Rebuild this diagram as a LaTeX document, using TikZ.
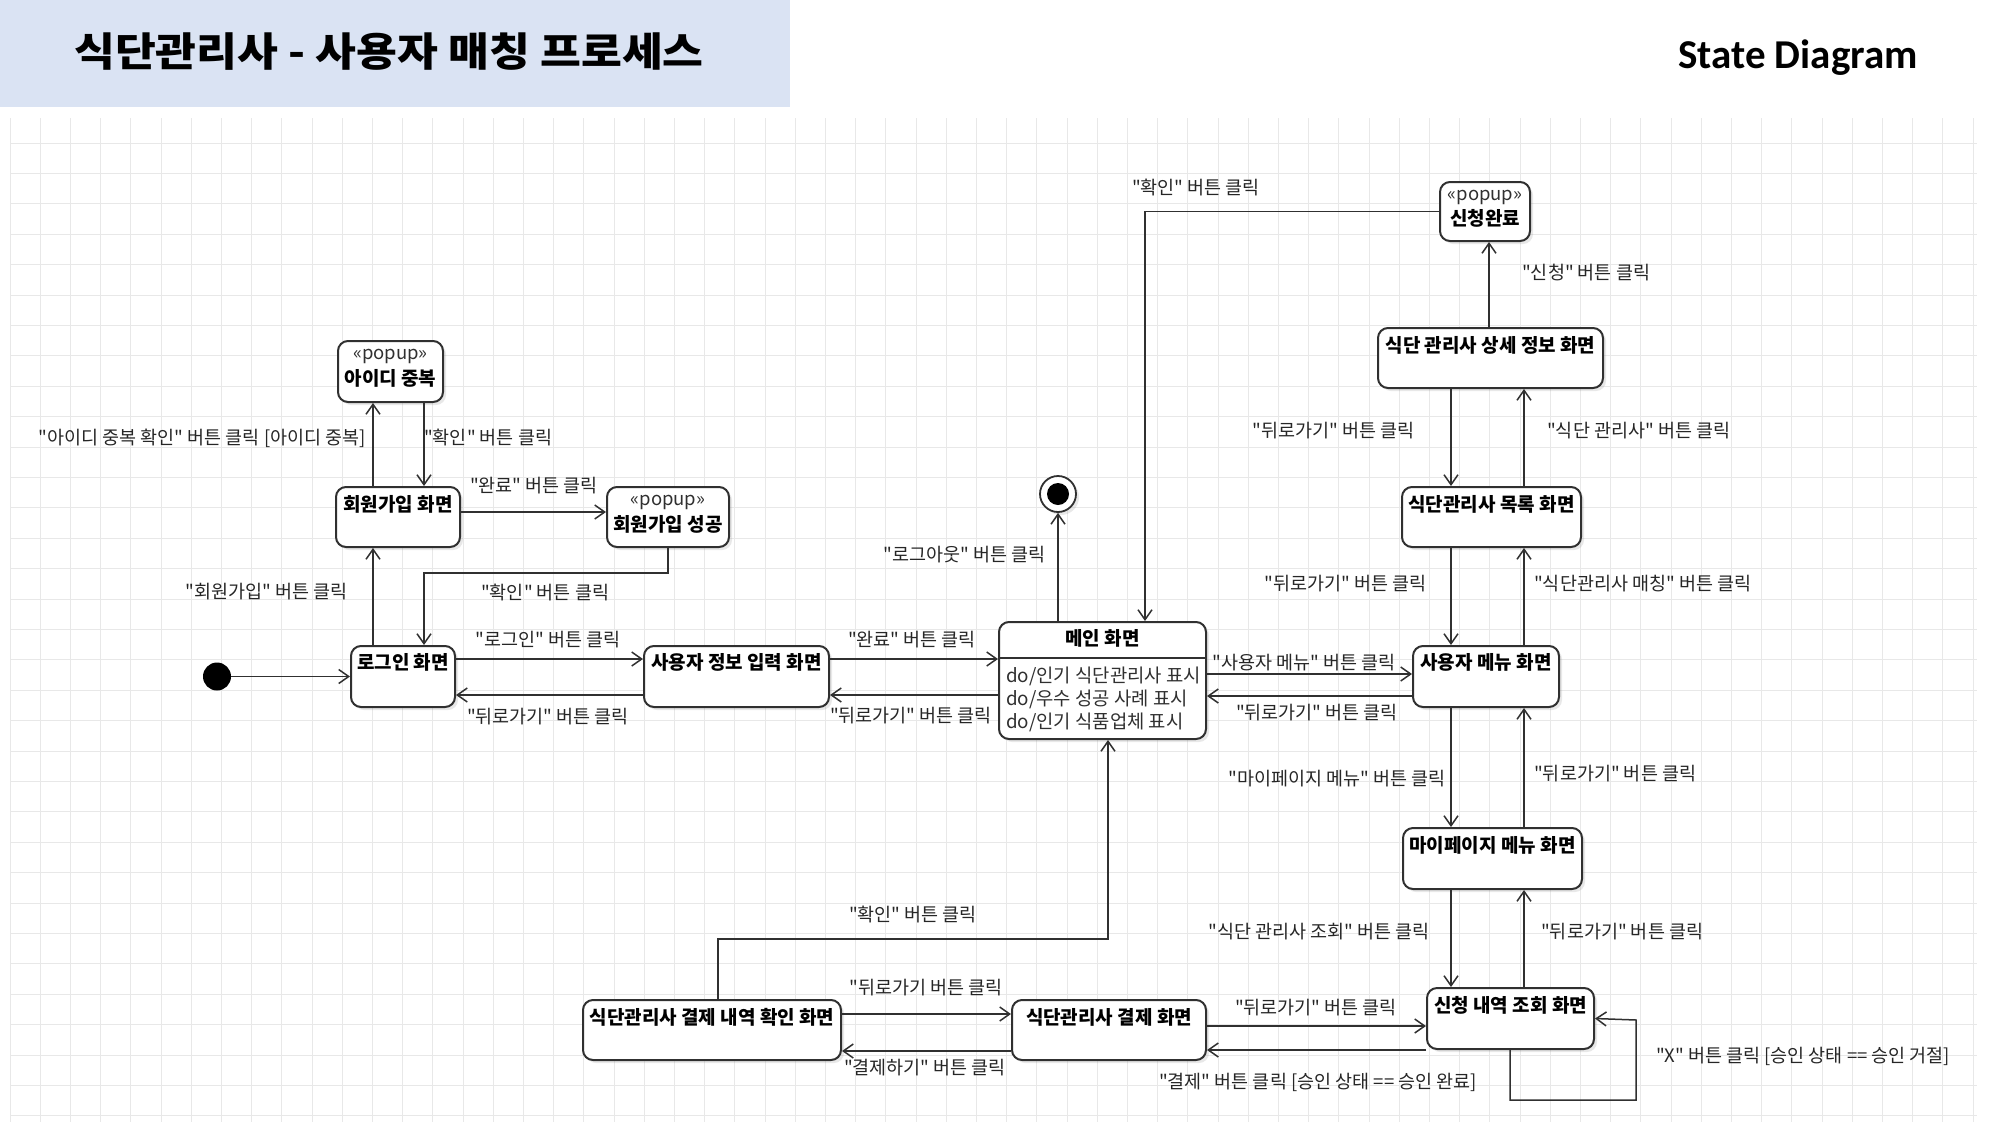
\documentclass[tikz,border=0pt]{standalone}
\usepackage{fontspec}
\newfontfamily\kr{Noto Sans CJK KR}
\newfontfamily\titlefont{Noto Sans CJK KR}[FakeStretch=1.11]
\newfontfamily\headfont{Carlito}
\usetikzlibrary{arrows.meta,shadows}
\definecolor{headblue}{HTML}{DAE3F3}
\definecolor{gridgray}{HTML}{E8E8E8}
\definecolor{ink}{HTML}{303030}
\definecolor{labelink}{HTML}{262626}

\begin{document}
\begin{tikzpicture}[x=1pt,y=-1pt,
  stbox/.style={draw=ink, line width=2pt, rounded corners=10pt, fill=white,
    drop shadow={shadow xshift=3pt, shadow yshift=-3pt, opacity=0.18}, inner sep=0pt},
  ttl/.style={font=\kr\fontsize{19}{22}\selectfont\bfseries, text=black, inner sep=0pt},
  stereo/.style={font=\kr\fontsize{18.5}{21}\selectfont, text=ink, inner sep=0pt},
  dotext/.style={font=\kr\fontsize{18.8}{22}\selectfont, text=ink, inner sep=0pt, anchor=west},
  lbl/.style={font=\kr\fontsize{18.5}{21}\selectfont, text=labelink, inner sep=0pt},
  tr/.style={draw=ink, line width=1.5pt,
    -{Straight Barb[length=10pt,width=14pt,line width=1.5pt]}},
  ]
\useasboundingbox (0,0) rectangle (2000,1125);
\fill[white] (0,0) rectangle (2000,1125);

% background grid of the drawing area
\foreach \i in {0,...,65}
  \draw[gridgray, line width=1pt] ({10+30.2*\i},118) -- ({10+30.2*\i},1122);
\foreach \j in {0,...,32}
  \draw[gridgray, line width=1pt] (10,{143+30.4*\j}) -- (1977,{143+30.4*\j});

% header
\fill[headblue] (0,0) rectangle (790,107);
\node[font=\titlefont\fontsize{40}{46}\selectfont\bfseries, inner sep=0pt] (title) at (389,52)
  {식단관리사 - 사용자 매칭 프로세스};
\node[font=\headfont\fontsize{41}{48}\selectfont\bfseries, inner sep=0pt] (kind) at (1798,58)
  {State Diagram};

% ---------- states ----------
\node[circle, fill=black, minimum size=28pt, inner sep=0pt] (init) at (217,676.5) {};

\node[stbox, minimum width=105pt, minimum height=61pt] (dup) at (390.5,371.5) {};
\node[stereo] (dup-s) at ([yshift=-16pt]dup.north) {«popup»};
\node[ttl] (dup-t) at ([yshift=-38pt]dup.north) {아이디 중복};

\node[stbox, minimum width=124pt, minimum height=60pt] (signup) at (398,517) {};
\node[ttl] (signup-t) at ([yshift=-18pt]signup.north) {회원가입 화면};

\node[stbox, minimum width=122pt, minimum height=60pt] (signok) at (668,517) {};
\node[stereo] (signok-s) at ([yshift=-16pt]signok.north) {«popup»};
\node[ttl] (signok-t) at ([yshift=-38pt]signok.north) {회원가입 성공};

\node[stbox, minimum width=104pt, minimum height=61pt] (login) at (403,676.5) {};
\node[ttl] (login-t) at ([yshift=-17pt]login.north) {로그인 화면};

\node[stbox, minimum width=185pt, minimum height=61pt] (info) at (736.5,676.5) {};
\node[ttl] (info-t) at ([yshift=-17pt]info.north) {사용자 정보 입력 화면};

\node[stbox, minimum width=207pt, minimum height=117pt] (main) at (1102.5,680.5) {};
\node[ttl] (main-t) at ([yshift=-17pt]main.north) {메인 화면};
\draw[draw=ink, line width=1.6pt] ([yshift=-37pt]main.north west) -- ([yshift=-37pt]main.north east);
\node[dotext] (main-d1) at (1006,676) {do/인기 식단관리사 표시};
\node[dotext] (main-d2) at (1006,699) {do/우수 성공 사례 표시};
\node[dotext] (main-d3) at (1006,722) {do/인기 식품업체 표시};

\node[circle, draw=ink, line width=1.8pt, fill=white, minimum size=36pt, inner sep=0pt,
  drop shadow={shadow xshift=3pt, shadow yshift=-3pt, opacity=0.18}] (final) at (1058,494) {};
\node[circle, fill=black, minimum size=22pt, inner sep=0pt] (final-dot) at (final) {};

\node[stbox, minimum width=146pt, minimum height=61pt] (umenu) at (1486,676.5) {};
\node[ttl] (umenu-t) at ([yshift=-17pt]umenu.north) {사용자 메뉴 화면};

\node[stbox, minimum width=179pt, minimum height=60pt] (list) at (1491.5,517) {};
\node[ttl] (list-t) at ([yshift=-18pt]list.north) {식단관리사 목록 화면};

\node[stbox, minimum width=225pt, minimum height=60pt] (detail) at (1490.5,358) {};
\node[ttl] (detail-t) at ([yshift=-18pt]detail.north) {식단 관리사 상세 정보 화면};

\node[stbox, minimum width=90pt, minimum height=59pt] (done) at (1485,211.5) {};
\node[stereo] (done-s) at ([yshift=-16pt]done.north) {«popup»};
\node[ttl] (done-t) at ([yshift=-37pt]done.north) {신청완료};

\node[stbox, minimum width=179pt, minimum height=61pt] (mypage) at (1492.5,858.5) {};
\node[ttl] (mypage-t) at ([yshift=-18pt]mypage.north) {마이페이지 메뉴 화면};

\node[stbox, minimum width=167pt, minimum height=61pt] (history) at (1510.5,1018.5) {};
\node[ttl] (history-t) at ([yshift=-18pt]history.north) {신청 내역 조회 화면};

\node[stbox, minimum width=194pt, minimum height=60pt] (pay) at (1109,1030) {};
\node[ttl] (pay-t) at ([yshift=-18pt]pay.north) {식단관리사 결제 화면};

\node[stbox, minimum width=258pt, minimum height=60pt] (payhist) at (712,1030) {};
\node[ttl] (payhist-t) at ([yshift=-18pt]payhist.north) {식단관리사 결제 내역 확인 화면};

% ---------- lanes used by the transitions ----------
\coordinate (xA) at (373,0);
\coordinate (xB) at (424,0);
\coordinate (ySign) at (0,512);
\coordinate (yA) at (0,659);
\coordinate (yB) at (0,695);
\coordinate (xMainIn) at (1145,0);
\coordinate (xMainBot) at (1108,0);
\coordinate (xPH) at (718,0);
\coordinate (yM1) at (0,674);
\coordinate (yM2) at (0,696);
\coordinate (xR1) at (1451,0);
\coordinate (xR2) at (1524,0);
\coordinate (xDone) at (1489,0);
\coordinate (yP1) at (0,1014);
\coordinate (yP2) at (0,1051);
\coordinate (yQ1) at (0,1026);
\coordinate (yQ2) at (0,1050);
\coordinate (xLoop) at (1510,0);

% ---------- transitions ----------
\draw[tr] (init) -- (login);
\draw[tr] (login.north -| xA) -- (signup.south -| xA);
\draw[tr] (signup.north -| xA) -- (dup.south -| xA);
\draw[tr] (dup.south -| xB) -- (signup.north -| xB);
\draw[tr] (signup.east |- ySign) -- (signok.west |- ySign);
\draw[tr] (signok.south) -- ++(0,25) -| (login.north -| xB);
\draw[tr] (login.east |- yA) -- (info.west |- yA);
\draw[tr] (info.west |- yB) -- (login.east |- yB);
\draw[tr] (info.east |- yA) -- (main.west |- yA);
\draw[tr] (main.west |- yB) -- (info.east |- yB);
\draw[tr] (main.north -| final) -- (final);
\draw[tr] (done.west) -| (main.north -| xMainIn);
\draw[tr] (main.east |- yM1) -- (umenu.west |- yM1);
\draw[tr] (umenu.west |- yM2) -- (main.east |- yM2);
\draw[tr] (umenu.north -| xR2) -- (list.south -| xR2);
\draw[tr] (list.south -| xR1) -- (umenu.north -| xR1);
\draw[tr] (list.north -| xR2) -- (detail.south -| xR2);
\draw[tr] (detail.south -| xR1) -- (list.north -| xR1);
\draw[tr] (detail.north -| xDone) -- (done.south -| xDone);
\draw[tr] (umenu.south -| xR1) -- (mypage.north -| xR1);
\draw[tr] (mypage.north -| xR2) -- (umenu.south -| xR2);
\draw[tr] (mypage.south -| xR1) -- (history.north -| xR1);
\draw[tr] (history.north -| xR2) -- (mypage.south -| xR2);
\draw[tr] (payhist.north -| xPH) -- ++(0,-60) -| (main.south -| xMainBot);
\draw[tr] (payhist.east |- yP1) -- (pay.west |- yP1);
\draw[tr] (pay.west |- yP2) -- (payhist.east |- yP2);
\draw[tr] (pay.east |- yQ1) -- (history.west |- yQ1);
\draw[tr] (history.west |- yQ2) -- (pay.east |- yQ2);
\draw[tr] (history.south -| xLoop) -- ++(0,50) -| ++(126,-80) -- (history.east);

% ---------- transition labels ----------
\node[lbl, anchor=east] (l-dupq) at (366,438) {"아이디 중복 확인" 버튼 클릭 [아이디 중복]};
\node[lbl, anchor=west] (l-dupok) at (424,438) {"확인" 버튼 클릭};
\node[lbl] (l-signdone) at (534,486) {"완료" 버튼 클릭};
\node[lbl, anchor=east] (l-signbtn) at (348,592) {"회원가입" 버튼 클릭};
\node[lbl, anchor=west] (l-okbtn) at (481,593) {"확인" 버튼 클릭};
\node[lbl] (l-login) at (548,640) {"로그인" 버튼 클릭};
\node[lbl] (l-back1) at (548,717) {"뒤로가기" 버튼 클릭};
\node[lbl] (l-done2) at (912,640) {"완료" 버튼 클릭};
\node[lbl] (l-back2) at (911,716) {"뒤로가기" 버튼 클릭};
\node[lbl, anchor=east] (l-logout) at (1046,555) {"로그아웃" 버튼 클릭};
\node[lbl] (l-oktop) at (1196,188) {"확인" 버튼 클릭};
\node[lbl, anchor=west] (l-apply) at (1522,273) {"신청" 버튼 클릭};
\node[lbl, anchor=east] (l-back3) at (1415,431) {"뒤로가기" 버튼 클릭};
\node[lbl, anchor=west] (l-sel) at (1547,431) {"식단 관리사" 버튼 클릭};
\node[lbl, anchor=east] (l-back4) at (1427,584) {"뒤로가기" 버튼 클릭};
\node[lbl, anchor=west] (l-match) at (1534,584) {"식단관리사 매칭" 버튼 클릭};
\node[lbl] (l-umenu) at (1304,663) {"사용자 메뉴" 버튼 클릭};
\node[lbl] (l-back5) at (1317,713) {"뒤로가기" 버튼 클릭};
\node[lbl, anchor=east] (l-mypage) at (1446,779) {"마이페이지 메뉴" 버튼 클릭};
\node[lbl, anchor=west] (l-back6) at (1534,774) {"뒤로가기" 버튼 클릭};
\node[lbl, anchor=east] (l-query) at (1430,932) {"식단 관리사 조회" 버튼 클릭};
\node[lbl, anchor=west] (l-back7) at (1541,932) {"뒤로가기" 버튼 클릭};
\node[lbl] (l-okbot) at (913,915) {"확인" 버튼 클릭};
\node[lbl] (l-back8) at (926,988) {"뒤로가기 버튼 클릭};
\node[lbl] (l-paybtn) at (925,1068) {"결제하기" 버튼 클릭};
\node[lbl] (l-back9) at (1316,1008) {"뒤로가기" 버튼 클릭};
\node[lbl] (l-paycond) at (1318,1082) {"결제" 버튼 클릭 [승인 상태 == 승인 완료]};
\node[lbl, anchor=west] (l-reject) at (1656,1056) {"X" 버튼 클릭 [승인 상태 == 승인 거절]};
\end{tikzpicture}
\end{document}
